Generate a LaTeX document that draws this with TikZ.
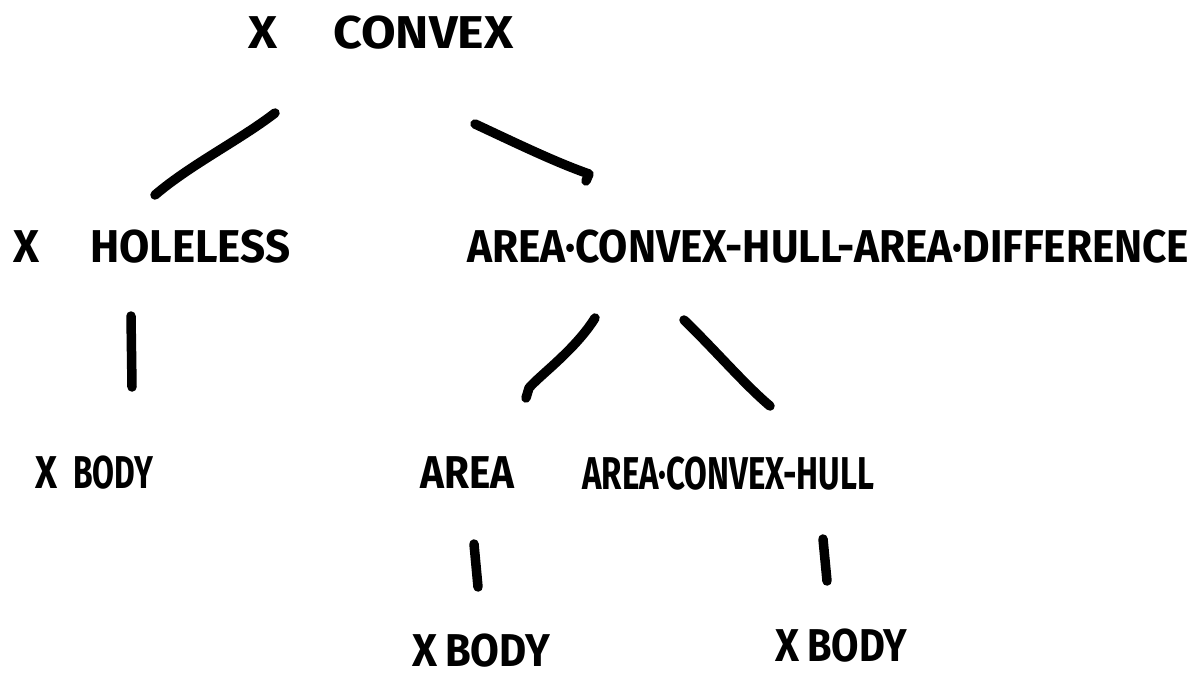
\documentclass[tikz,border=0pt]{standalone}
\usepackage{fontspec}
\usepackage{graphicx}
\setmainfont{Fira Sans}
\newcommand\fitw[2]{\resizebox{#1}{\height}{#2}}
\tikzset{
  lbl/.style={anchor=west, inner sep=0pt, font=\fontsize{46}{46}\selectfont\bfseries},
  stroke/.style={line width=9.5pt, line cap=round, line join=round, black}
}
\begin{document}
\begin{tikzpicture}[x=1pt,y=-1pt]
\clip (0,0) rectangle (1193,677);
\fill[white] (0,0) rectangle (1193,677);
% nodes
\node[lbl] (root) at (248,33) {\fitw{29pt}{X}\hspace{56pt}\fitw{180pt}{CONVEX}};
\node[lbl] (hole) at (13,247) {\fitw{26pt}{X}\hspace{51pt}\fitw{200pt}{HOLELESS}};
\node[lbl] (diff) at (467,247) {\fitw{722pt}{AREA·CONVEX-HULL-AREA·DIFFERENCE}};
\node[lbl] (body1) at (35,473) {\fitw{22pt}{X}\hspace{16pt}\fitw{80pt}{BODY}};
\node[lbl] (area) at (420,473) {\fitw{94pt}{AREA}};
\node[lbl] (ach) at (582,474) {\fitw{292pt}{AREA·CONVEX-HULL}};
\node[lbl] (body2) at (412,651) {\fitw{25pt}{X}\hspace{8pt}\fitw{105pt}{BODY}};
\node[lbl] (body3) at (775,646) {\fitw{24pt}{X}\hspace{8pt}\fitw{100pt}{BODY}};
% connector end points
\coordinate (r1) at (275,113);
\coordinate (h1) at (155,195);
\coordinate (r2) at (475,124);
\coordinate (d1) at (589,174);
\coordinate (h2) at (131,316);
\coordinate (b1) at (132,387);
\coordinate (d2) at (595,318);
\coordinate (a1) at (526,398);
\coordinate (d3) at (684,320);
\coordinate (c1) at (770,406);
\coordinate (a2) at (474,544);
\coordinate (b2) at (478,587);
\coordinate (c2) at (823,539);
\coordinate (b3) at (827,581);
% connectors
\draw[stroke] (r1) .. controls (240,140) and (190,165) .. (h1);
\draw[stroke] (r2) .. controls (520,145) and (555,162) .. (d1) -- (586,181);
\draw[stroke] (h2) -- (b1);
\draw[stroke] (d2) .. controls (575,350) and (540,375) .. (529,388) -- (a1);
\draw[stroke] (d3) .. controls (715,350) and (745,385) .. (c1);
\draw[stroke] (a2) -- (b2);
\draw[stroke] (c2) -- (b3);
\end{tikzpicture}
\end{document}
